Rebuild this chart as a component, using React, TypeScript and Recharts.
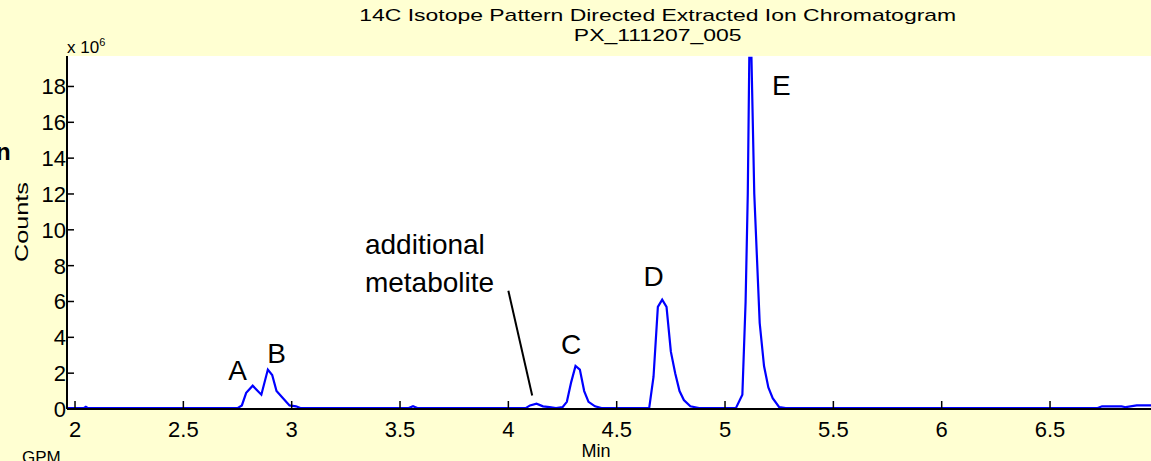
import React from "react";
import { LineChart, Line, XAxis, YAxis, CartesianGrid, ReferenceDot, ReferenceLine } from "recharts";

const times = [1.963,2.04,2.05,2.06,2.5,2.75,2.77,2.79,2.82,2.86,2.89,2.91,2.93,2.96,2.99,3.02,3.04,3.54,3.56,3.58,4.08,4.1,4.13,4.16,4.19,4.22,4.25,4.27,4.29,4.31,4.33,4.35,4.37,4.4,4.43,4.65,4.67,4.69,4.71,4.73,4.75,4.77,4.79,4.81,4.84,4.88,5.05,5.08,5.095,5.105,5.112,5.122,5.135,5.16,5.18,5.2,5.22,5.25,5.28,6.72,6.74,6.83,6.85,6.9,6.966];
const counts = [0.05,0.05,0.12,0.05,0.05,0.05,0.2,0.9,1.3,0.8,2.2,1.9,1.0,0.6,0.2,0.15,0.05,0.05,0.15,0.05,0.05,0.2,0.3,0.15,0.1,0.05,0.1,0.4,1.5,2.4,2.2,1.0,0.4,0.15,0.05,0.05,1.8,5.7,6.1,5.7,3.2,2.0,1.0,0.5,0.15,0.05,0.05,0.8,6.0,12.0,19.6,19.6,12.0,4.8,2.4,1.2,0.6,0.1,0.05,0.05,0.15,0.15,0.1,0.2,0.2];
const xTicks = [2,2.5,3,3.5,4,4.5,5,5.5,6,6.5];
const yTicks = [0,2,4,6,8,10,12,14,16,18];
const peakLabels = [
  { t: "A", x: 2.75, y: 2.2 },
  { t: "B", x: 2.93, y: 3.1 },
  { t: "C", x: 4.29, y: 3.6 },
  { t: "D", x: 4.67, y: 7.4 },
  { t: "E", x: 5.26, y: 18.1 },
];

const data = times.map((t, i) => ({ t, c: counts[i] }));
const font = "Liberation Sans, Arial, sans-serif";

const YTick = (p: any) => (
  <g>
    <line x1={67} x2={74} y1={p.y} y2={p.y} stroke="#000" strokeWidth={1.5} />
    <text x={66} y={p.y} dy={8} textAnchor="end" fontSize={22} fontFamily={font} fill="#000">{p.payload.value}</text>
  </g>
);
const XTick = (p: any) => (
  <g>
    <line x1={p.x} x2={p.x} y1={409} y2={401} stroke="#000" strokeWidth={1.5} />
    <text x={p.x} y={437} textAnchor="middle" fontSize={22} fontFamily={font} fill="#000">{p.payload.value}</text>
  </g>
);

export default function App() {
  return (
    <div style={{ position: "absolute", left: 0, top: 0, width: 1151, height: 461, background: "#FFFFD2", fontFamily: font, overflow: "hidden" }}>
      <div style={{ position: "absolute", left: 0, width: 1315, top: 6, textAlign: "center", fontSize: 17, lineHeight: "20px", transform: "scaleX(1.35)", transformOrigin: "657px 0" }}>
        14C Isotope Pattern Directed Extracted Ion Chromatogram<br />PX_111207_005
      </div>
      <div style={{ position: "absolute", left: 67, top: 36, fontSize: 17 }}>x 10<sup style={{ fontSize: 11 }}>6</sup></div>
      <div style={{ position: "absolute", left: -4, top: 138, fontSize: 24, fontWeight: "bold" }}>n</div>
      <div style={{ position: "absolute", left: 22, top: 448, fontSize: 17 }}>GPM</div>
      <div style={{ position: "absolute", left: 596, top: 441, fontSize: 18, transform: "translateX(-50%)" }}>Min</div>
      <div style={{ position: "absolute", left: 12, top: 262, fontSize: 18, transform: "rotate(-90deg) scaleX(1.4)", transformOrigin: "0 0" }}>Counts</div>
      <LineChart width={1151} height={461} data={data} margin={{ top: 56, left: 0, right: 0, bottom: 0 }} style={{ position: "absolute", left: 0, top: 0 }}>
        <CartesianGrid horizontal={false} vertical={false} fill="#FFFFFF" />
        <XAxis dataKey="t" type="number" domain={[1.963, 6.966]} ticks={xTicks} allowDataOverflow height={52} tickLine={false} tick={<XTick />} axisLine={{ stroke: "#000", strokeWidth: 2 }} />
        <YAxis type="number" domain={[0, 19.7]} ticks={yTicks} allowDataOverflow width={67} tickLine={false} tick={<YTick />} axisLine={{ stroke: "#000", strokeWidth: 2 }} />
        <Line dataKey="c" type="linear" stroke="#0000FF" strokeWidth={2.2} dot={false} isAnimationActive={false} />
        {peakLabels.map((l) => (
          <ReferenceDot key={l.t} x={l.x} y={l.y} r={0} stroke="none" label={{ value: l.t, position: "center", fontSize: 28, fill: "#000", fontFamily: font }} />
        ))}
        <ReferenceDot x={3.315} y={9.2} r={0} stroke="none" label={{ value: "additional", position: "right", fontSize: 28, fill: "#000", fontFamily: font }} />
        <ReferenceDot x={3.315} y={7.1} r={0} stroke="none" label={{ value: "metabolite", position: "right", fontSize: 28, fill: "#000", fontFamily: font }} />
        <ReferenceLine segment={[{ x: 4.0, y: 6.6 }, { x: 4.11, y: 0.75 }]} stroke="#000" strokeWidth={2} />
      </LineChart>
    </div>
  );
}
